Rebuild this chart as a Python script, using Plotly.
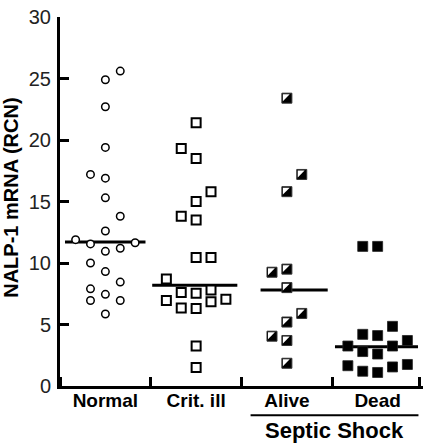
import plotly.graph_objects as go

# ---------------- data ----------------
categories = ["Normal", "Crit. ill", "Alive", "Dead"]
y_ticks = [0, 5, 10, 15, 20, 25, 30]

normal_vals = [24.9, 25.6, 22.7, 19.4, 17.2, 16.9, 15.3, 13.8, 12.6, 11.9, 11.55,
               11.65, 10.95, 11.2, 10.0, 9.3, 8.45, 7.9, 7.45, 6.95, 6.95, 5.85]
critill_vals = [21.4, 19.3, 18.5, 15.8, 15.0, 13.8, 13.5, 10.45, 10.45, 8.7, 7.6,
                7.55, 7.8, 6.95, 6.85, 7.05, 6.35, 6.3, 3.25, 1.5]
alive_vals = [23.4, 17.2, 15.8, 9.25, 9.5, 8.0, 5.9, 5.2, 4.05, 3.7, 1.85]
dead_vals = [11.35, 11.35, 4.85, 4.2, 4.1, 3.25, 3.25, 3.7, 2.8, 2.6, 1.65, 1.2,
             1.1, 1.55, 1.75]

medians = [11.7, 8.2, 7.8, 3.2]
group_label = "Septic Shock"

# ---------------- layout helpers (dot columns, line extents) ----------------
normal_cols = [0, 1, 0, 0, -1, 0, 0, 1, 0, -2, -1, 2, 0, 1, -1, 0, 1, -1, 0, -1, 1, 0]
critill_cols = [0, -1, 0, 1, 0, -1, 0, 0, 1, -2, -1, 0, 1, -2, 1, 2, -1, 0, 0, 0]
alive_cols = [0, 1, 0, -1, 0, 0, 1, 0, -1, 0, 0]
dead_cols = [-1, 0, 1, -1, 0, -2, 1, 2, -1, 0, -2, -1, 0, 1, 2]
COL_STEP = 0.164
median_extent = [(-0.445, 0.442), (-0.484, 0.454), (-0.29, 0.45), (-0.47, 0.445)]

FONT = "Liberation Sans, Arial, sans-serif"


def xs(idx, cols):
    return [idx + c * COL_STEP for c in cols]


fig = go.Figure()

# median lines
for i, (m, (a, b)) in enumerate(zip(medians, median_extent)):
    fig.add_trace(go.Scatter(x=[i + a, i + b], y=[m, m], mode="lines",
                             line=dict(color="black", width=3), hoverinfo="skip"))

# Normal: open circles
fig.add_trace(go.Scatter(x=xs(0, normal_cols), y=normal_vals, mode="markers",
                         marker=dict(symbol="circle", size=7.5, color="white",
                                     line=dict(color="black", width=1.5))))
# Crit. ill: open squares
fig.add_trace(go.Scatter(x=xs(1, critill_cols), y=critill_vals, mode="markers",
                         marker=dict(symbol="square", size=9, color="white",
                                     line=dict(color="black", width=2))))
# Alive: half-filled squares
fig.add_trace(go.Scatter(x=xs(2, alive_cols), y=alive_vals, mode="markers",
                         marker=dict(symbol="square", size=10, color="black",
                                     line=dict(color="#333", width=1))))
fig.add_trace(go.Scatter(x=[v - 0.019 for v in xs(2, alive_cols)],
                         y=[v + 0.13 for v in alive_vals], mode="markers",
                         marker=dict(symbol="triangle-nw", size=7.6, color="white",
                                     line=dict(width=0)), hoverinfo="skip"))
# Dead: filled squares
fig.add_trace(go.Scatter(x=xs(3, dead_cols), y=dead_vals, mode="markers",
                         marker=dict(symbol="square", size=10, color="black",
                                     line=dict(color="#222", width=0.8))))

fig.update_layout(
    width=429, height=443,
    margin=dict(l=60, r=6, t=7, b=57),
    paper_bgcolor="white", plot_bgcolor="white",
    showlegend=False,
    font=dict(family=FONT, color="#1a1a1a"),
    xaxis=dict(
        range=[-0.5, 3.5],
        tickmode="array", tickvals=list(range(len(categories))), ticktext=categories,
        ticks="", showgrid=False, zeroline=False,
        showline=True, linecolor="black", linewidth=3,
        tickfont=dict(family=FONT, size=19, color="black", weight="bold"),
        ticklabelstandoff=-5,
        minor=dict(tickmode="array", tickvals=[-0.5, 0.5, 1.5, 2.5, 3.46],
                   ticks="inside", ticklen=9, tickwidth=2.5, tickcolor="black",
                   showgrid=False),
    ),
    yaxis=dict(
        range=[0, 30], tickmode="array", tickvals=y_ticks,
        ticks="inside", ticklen=9, tickwidth=2.5, tickcolor="black",
        showgrid=False, zeroline=False,
        showline=True, linecolor="black", linewidth=3,
        tickfont=dict(family=FONT, size=20, color="#222"),
        ticklabelstandoff=2,
        ticklabeloverflow="allow",
    ),
)

fig.add_annotation(text="NALP-1 mRNA (RCN)", textangle=-90, xref="paper", yref="paper",
                   x=0, y=0.51, xanchor="center", yanchor="middle", xshift=-49,
                   showarrow=False,
                   font=dict(family=FONT, size=20, color="black", weight="bold"))

fig.add_shape(type="line", xref="x", yref="paper", x0=1.60, x1=3.45, y0=-0.079, y1=-0.079,
              line=dict(color="black", width=2))
fig.add_annotation(text=group_label, xref="x", yref="paper", x=2.52, y=-0.121,
                   xanchor="center", yanchor="middle", showarrow=False,
                   font=dict(family=FONT, size=22, color="black", weight="bold"))

fig.write_html("out.html", config={"displayModeBar": False},
               post_script="document.body.style.margin='0';")
